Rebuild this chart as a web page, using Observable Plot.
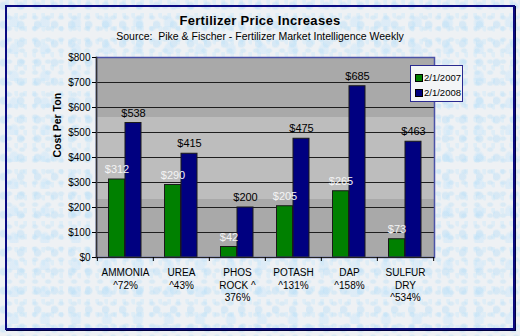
<!DOCTYPE html>
<html>
<head>
<meta charset="utf-8">
<script src="https://cdn.jsdelivr.net/npm/d3@7"></script>
<script src="https://cdn.jsdelivr.net/npm/@observablehq/plot@0.6"></script>
<style>
  html, body { margin: 0; padding: 0; }
  body { width: 520px; height: 336px; overflow: hidden; font-family: "Liberation Sans", Arial, sans-serif; }
  #page {
    position: relative; width: 520px; height: 336px;
    background-color: #eef1f4;
    background-image:
      radial-gradient(ellipse at 20% 30%, rgba(185,222,246,.45) 0 3px, transparent 5px),
      radial-gradient(ellipse at 70% 60%, rgba(185,222,246,.4) 0 2px, transparent 4px),
      radial-gradient(ellipse at 45% 85%, rgba(200,230,250,.45) 0 4px, transparent 6px),
      radial-gradient(ellipse at 85% 15%, rgba(200,230,250,.4) 0 2px, transparent 3px);
    background-size: 17px 19px, 13px 11px, 31px 27px, 9px 13px;
  }
  #frame {
    position: absolute; left: 5px; top: 5px; width: 506px; height: 321px;
    border: 2px solid #0a0a80; box-shadow: 1px 1px 0 #000040;
  }
  #title { position: absolute; left: 0; width: 520px; top: 13px; text-align: center; font-weight: bold; font-size: 13px; letter-spacing: 0.3px; color: #000; }
  #subtitle { position: absolute; left: 0; width: 520px; top: 30px; text-align: center; font-size: 10.5px; color: #000; }
  #chart { position: absolute; left: 0; top: 45px; }
  #legend {
    position: absolute; left: 410px; top: 65px; width: 51px; height: 35px;
    border: 1px solid #2a2a90; background: #f3f5f7; font-size: 9.5px;
  }
  .li { position: absolute; left: 4px; display: flex; align-items: center; white-space: nowrap; }
  .sw { width: 6px; height: 6px; border: 1px solid #000; margin-right: 1px; }
</style>
</head>
<body>
<div id="page">
  <div id="frame"></div>
  <div id="title">Fertilizer Price Increases</div>
  <div id="subtitle">Source:&nbsp; Pike &amp; Fischer - Fertilizer Market Intelligence Weekly</div>
  <div id="chart"></div>
  <div id="legend"></div>
</div>
<script>
const categories = ["AMMONIA\n^72%", "UREA\n^43%", "PHOS\nROCK ^\n376%", "POTASH\n^131%", "DAP\n^158%", "SULFUR\nDRY\n^534%"];
const price2007 = [312, 290, 42, 205, 265, 73];
const price2008 = [538, 415, 200, 475, 685, 463];
const seriesNames = ["2/1/2007", "2/1/2008"];
const seriesColors = ["#008000", "#000080"];
const yTicks = [0, 100, 200, 300, 400, 500, 600, 700, 800];
const bands = [
  {y1: 0, y2: 232, fill: "#a9a9a9"},
  {y1: 232, y2: 560, fill: "#bdbdbd"},
  {y1: 560, y2: 800, fill: "#a9a9a9"}
];

const rows2007 = categories.map((c, i) => ({cat: c, value: price2007[i]}));
const rows2008 = categories.map((c, i) => ({cat: c, value: price2008[i]}));

const W = 520, ML = 96, MR = 86, MT = 12, MB = 60, H = MT + 200 + MB;
const bw = (W - ML - MR) / categories.length;

const chart = Plot.plot({
  width: W, height: H,
  marginLeft: ML, marginRight: MR, marginTop: MT, marginBottom: MB,
  style: {fontFamily: "'Liberation Sans', Arial, sans-serif", background: "transparent", overflow: "visible"},
  x: {domain: categories, padding: 0},
  y: {domain: [0, 800]},
  marks: [
    Plot.rectY(bands, {y1: "y1", y2: "y2", fill: "fill"}),
    Plot.ruleY(yTicks.slice(1, -1), {stroke: "#1e1e1e", strokeWidth: 1}),
    Plot.barY(rows2007, {x: "cat", y: "value", fill: seriesColors[0], stroke: "#1a1a1a", strokeWidth: 1, insetLeft: 11.5, insetRight: 28.5}),
    Plot.barY(rows2008, {x: "cat", y: "value", fill: seriesColors[1], stroke: "#1a1a1a", strokeWidth: 1, insetLeft: 28, insetRight: 12}),
    Plot.text(rows2007, {x: "cat", y: "value", text: d => "$" + d.value, dx: -8.5, dy: -10, fill: "#f4f4f4", fontSize: 11}),
    Plot.text(rows2008, {x: "cat", y: "value", text: d => "$" + d.value, dx: 8, dy: -10, fill: "#000", fontSize: 11}),
    Plot.frame({stroke: "#4a52a8", strokeWidth: 1.5}),
    Plot.ruleY([0], {stroke: "#222", strokeWidth: 1.2}),
    Plot.frame({anchor: "left", stroke: "#333", strokeWidth: 1.5}),
    Plot.axisY({ticks: yTicks, tickFormat: d => "$" + d, tickSize: 4, tickPadding: 2, fontSize: 10, label: null}),
    Plot.axisX({tickSize: 0, tickPadding: 10, fontSize: 10, lineHeight: 1.25, label: null, style: {letterSpacing: "0.6px"}}),
    Plot.axisX({tickSize: 4, tickFormat: () => "", dx: -bw / 2, label: null}),
    Plot.axisX({ticks: [categories[categories.length - 1]], tickSize: 4, tickFormat: () => "", dx: bw / 2, label: null}),
    Plot.text(["Cost Per Ton"], {frameAnchor: "left", rotate: -90, dx: -39, fontWeight: "bold", fontSize: 10.5, fill: "#000"})
  ]
});
document.getElementById("chart").appendChild(chart);

const legend = document.getElementById("legend");
seriesNames.forEach((n, i) => {
  const d = document.createElement("div");
  d.className = "li";
  d.style.top = (6 + i * 15) + "px";
  d.innerHTML = `<span class="sw" style="background:${seriesColors[i]}"></span><span>${n}</span>`;
  legend.appendChild(d);
});
</script>
</body>
</html>
